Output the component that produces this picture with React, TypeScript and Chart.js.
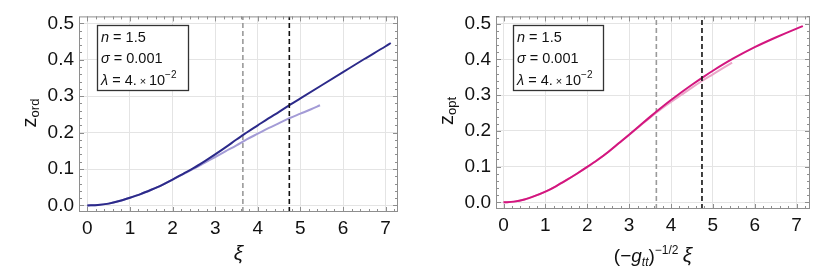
import React, { useEffect, useRef } from "react";
import { Chart, registerables } from "chart.js";

Chart.register(...registerables);

// ---------- data ----------
const X_ORD = [0, 0.25, 0.5, 0.75, 1, 1.25, 1.5, 1.75, 2, 2.25, 2.5, 2.75, 3, 3.25, 3.5, 3.65, 3.75, 4, 4.25, 4.5, 4.75, 5, 5.5, 6, 6.5, 7, 7.12];
const Z_ORD = [0, 0.001, 0.005, 0.012, 0.021, 0.031, 0.043, 0.056, 0.071, 0.087, 0.103, 0.121, 0.14, 0.16, 0.181, 0.193, 0.201, 0.22, 0.239, 0.257, 0.276, 0.294, 0.33, 0.366, 0.402, 0.437, 0.446];

const X_ORD_APPROX = [0, 0.25, 0.5, 0.75, 1, 1.25, 1.5, 1.75, 2, 2.25, 2.5, 2.75, 3, 3.25, 3.5, 3.75, 4, 4.25, 4.5, 4.75, 5, 5.25, 5.46];
const Z_ORD_APPROX = [0, 0.001, 0.005, 0.012, 0.021, 0.031, 0.043, 0.056, 0.071, 0.086, 0.101, 0.117, 0.133, 0.149, 0.165, 0.182, 0.197, 0.212, 0.226, 0.24, 0.252, 0.264, 0.275];

const X_OPT = [0, 0.25, 0.5, 0.75, 1, 1.25, 1.5, 1.75, 2, 2.25, 2.5, 2.75, 3, 3.25, 3.5, 3.75, 4, 4.25, 4.5, 4.75, 5, 5.5, 6, 6.5, 7, 7.15];
const Z_OPT = [0, 0.002, 0.008, 0.018, 0.03, 0.045, 0.062, 0.08, 0.099, 0.119, 0.141, 0.165, 0.189, 0.214, 0.239, 0.263, 0.286, 0.308, 0.329, 0.349, 0.368, 0.403, 0.434, 0.461, 0.486, 0.493];

const X_OPT_APPROX = [0, 0.25, 0.5, 0.75, 1, 1.25, 1.5, 1.75, 2, 2.25, 2.5, 2.75, 3, 3.25, 3.5, 3.75, 4, 4.25, 4.5, 4.75, 5, 5.25, 5.46];
const Z_OPT_APPROX = [0, 0.002, 0.008, 0.018, 0.03, 0.045, 0.062, 0.08, 0.099, 0.119, 0.141, 0.165, 0.189, 0.213, 0.237, 0.26, 0.281, 0.301, 0.321, 0.34, 0.358, 0.376, 0.391];

const DASH_GRAY_X = 3.65;
const DASH_BLACK_X = 4.74;

const X_TICKS = [0, 1, 2, 3, 4, 5, 6, 7];
const Y_TICKS = [0, 0.1, 0.2, 0.3, 0.4, 0.5];

const LEGEND_N = "1.5";
const LEGEND_SIGMA = "0.001";
const LEGEND_LAMBDA_MANT = "4.";
const LEGEND_LAMBDA_EXP = "\u22122";

// ---------- helpers ----------
const FONT = '"Liberation Sans", Arial, sans-serif';

type Run = { t: string; size: number; italic?: boolean; dy?: number };

function runsWidth(ctx: CanvasRenderingContext2D, runs: Run[]) {
  let w = 0;
  for (const r of runs) {
    ctx.font = `${r.italic ? "italic " : ""}${r.size}px ${FONT}`;
    w += ctx.measureText(r.t).width;
  }
  return w;
}

function drawRuns(ctx: CanvasRenderingContext2D, x: number, y: number, runs: Run[]) {
  let cx = x;
  ctx.textBaseline = "alphabetic";
  ctx.textAlign = "left";
  for (const r of runs) {
    ctx.font = `${r.italic ? "italic " : ""}${r.size}px ${FONT}`;
    ctx.fillText(r.t, cx, y + (r.dy || 0));
    cx += ctx.measureText(r.t).width;
  }
}

const zip = (xs: number[], ys: number[]) => xs.map((x, i) => ({ x, y: ys[i] }));

type PanelCfg = {
  xMin: number; xMax: number; yMin: number; yMax: number;
  yAxisWidth: number; xAxisHeight: number; padRight: number; padTop: number;
  mainX: number[]; mainY: number[]; approxX: number[]; approxY: number[];
  mainColor: string; approxColor: string;
  legendBox: [number, number, number, number];
  xTitle: Run[]; xTitleBaseline: number;
  yTitle: Run[]; yTitleX: number; yTitleCenter: number;
};

const overlayPlugin = {
  id: "overlay",
  afterDraw(chart: any, _args: any, opts: any) {
    const cfg: PanelCfg = opts.cfg;
    const { ctx, chartArea } = chart;
    const { left, right, top, bottom } = chartArea;
    const xs = chart.scales.x;
    const ys = chart.scales.y;
    ctx.save();
    // frame
    ctx.strokeStyle = "#8e8e8e";
    ctx.lineWidth = 1;
    ctx.strokeRect(left + 0.5, top + 0.5, right - left - 1, bottom - top - 1);
    // ticks on frame
    ctx.beginPath();
    const i0 = Math.ceil(xs.min / 0.2 - 1e-9), i1 = Math.floor(xs.max / 0.2 + 1e-9);
    for (let i = i0; i <= i1; i++) {
      const v = i * 0.2;
      const major = i % 5 === 0;
      const len = major ? 5 : 3;
      const px = Math.round(xs.getPixelForValue(v)) + 0.5;
      ctx.moveTo(px, bottom); ctx.lineTo(px, bottom - len);
      ctx.moveTo(px, top); ctx.lineTo(px, top + len);
    }
    const j0 = Math.ceil(ys.min / 0.02 - 1e-9), j1 = Math.floor(ys.max / 0.02 + 1e-9);
    for (let j = j0; j <= j1; j++) {
      const v = j * 0.02;
      const major = j % 5 === 0;
      const len = major ? 5 : 3;
      const py = Math.round(ys.getPixelForValue(v)) + 0.5;
      ctx.moveTo(left, py); ctx.lineTo(left + len, py);
      ctx.moveTo(right, py); ctx.lineTo(right - len, py);
    }
    ctx.stroke();

    // legend box
    const [bx, by, bw, bh] = cfg.legendBox;
    ctx.fillStyle = "#ffffff";
    ctx.fillRect(bx, by, bw, bh);
    ctx.strokeStyle = "#333333";
    ctx.lineWidth = 1.3;
    ctx.strokeRect(bx + 0.5, by + 0.5, bw, bh);
    ctx.fillStyle = "#111111";
    const fs = 14.5;
    drawRuns(ctx, bx + 4, by + 17, [
      { t: "n", size: fs, italic: true },
      { t: " = " + LEGEND_N, size: fs },
    ]);
    drawRuns(ctx, bx + 4, by + 38, [
      { t: "\u03c3", size: fs, italic: true },
      { t: " = " + LEGEND_SIGMA, size: fs },
    ]);
    drawRuns(ctx, bx + 4, by + 60, [
      { t: "\u03bb", size: fs, italic: true },
      { t: " = " + LEGEND_LAMBDA_MANT + "\u2009", size: fs },
      { t: "\u00d7", size: 11 },
      { t: "\u200910", size: fs },
      { t: LEGEND_LAMBDA_EXP, size: 10, dy: -7 },
    ]);

    // x title
    ctx.fillStyle = "#111111";
    const wx = runsWidth(ctx, cfg.xTitle);
    drawRuns(ctx, (left + right) / 2 - wx / 2, cfg.xTitleBaseline, cfg.xTitle);

    // y title (rotated)
    const wy = runsWidth(ctx, cfg.yTitle);
    ctx.translate(cfg.yTitleX, cfg.yTitleCenter);
    ctx.rotate(-Math.PI / 2);
    drawRuns(ctx, -wy / 2, 0, cfg.yTitle);
    ctx.restore();
  },
};

function Panel({ cfg, left }: { cfg: PanelCfg; left: number }) {
  const ref = useRef<HTMLCanvasElement>(null);
  useEffect(() => {
    const canvas = ref.current!;
    const chart = new Chart(canvas, {
      type: "scatter",
      data: {
        datasets: [
          {
            data: zip(cfg.mainX, cfg.mainY),
            showLine: true, borderColor: cfg.mainColor, borderWidth: 2,
            pointRadius: 0, cubicInterpolationMode: "monotone", order: 1,
          },
          {
            data: zip(cfg.approxX, cfg.approxY),
            showLine: true, borderColor: cfg.approxColor, borderWidth: 2,
            pointRadius: 0, cubicInterpolationMode: "monotone", order: 2,
          },
          {
            data: [{ x: DASH_GRAY_X, y: cfg.yMin }, { x: DASH_GRAY_X, y: cfg.yMax }],
            showLine: true, borderColor: "#9a9a9a", borderWidth: 1.6,
            borderDash: [5, 3], pointRadius: 0, order: 3,
          },
          {
            data: [{ x: DASH_BLACK_X, y: cfg.yMin }, { x: DASH_BLACK_X, y: cfg.yMax }],
            showLine: true, borderColor: "#111111", borderWidth: 1.6,
            borderDash: [5, 3], pointRadius: 0, order: 0,
          },
        ],
      },
      options: {
        animation: false,
        responsive: false,
        events: [],
        layout: { padding: { top: cfg.padTop, right: cfg.padRight, left: 0, bottom: 0 } },
        plugins: { legend: { display: false }, tooltip: { enabled: false }, overlay: { cfg } } as any,
        scales: {
          x: {
            type: "linear", min: cfg.xMin, max: cfg.xMax,
            afterFit: (s: any) => { s.height = cfg.xAxisHeight; },
            afterBuildTicks: (s: any) => { s.ticks = X_TICKS.map((v) => ({ value: v })); },
            ticks: { color: "#111111", font: { family: FONT, size: 19 }, padding: 5, maxRotation: 0, callback: (v: any) => String(v) },
            grid: { color: "#e4e4e4", drawTicks: false, lineWidth: 1 },
            border: { display: false },
          },
          y: {
            type: "linear", min: cfg.yMin, max: cfg.yMax,
            afterFit: (s: any) => { s.width = cfg.yAxisWidth; },
            afterBuildTicks: (s: any) => { s.ticks = Y_TICKS.map((v) => ({ value: v })); },
            ticks: { color: "#111111", font: { family: FONT, size: 19 }, padding: 5, callback: (v: any) => Number(v).toFixed(1) },
            grid: { color: "#e4e4e4", drawTicks: false, lineWidth: 1 },
            border: { display: false },
          },
        },
      },
      plugins: [overlayPlugin as any],
    });
    return () => chart.destroy();
  }, []);
  return (
    <canvas
      ref={ref}
      width={415}
      height={277}
      style={{ position: "absolute", left, top: 0, width: 415, height: 277 }}
    />
  );
}

const LEFT_CFG: PanelCfg = {
  xMin: -0.195, xMax: 7.29, yMin: -0.018, yMax: 0.519,
  yAxisWidth: 79, xAxisHeight: 65, padRight: 17, padTop: 15,
  mainX: X_ORD, mainY: Z_ORD, approxX: X_ORD_APPROX, approxY: Z_ORD_APPROX,
  mainColor: "#2c2a8a", approxColor: "#a39bd6",
  legendBox: [97, 25, 91, 65],
  xTitle: [{ t: "\u03be", size: 21, italic: true }],
  xTitleBaseline: 260,
  yTitle: [{ t: "z", size: 20 }, { t: "ord", size: 13, dy: 3 }],
  yTitleX: 36, yTitleCenter: 113,
};

const RIGHT_CFG: PanelCfg = {
  xMin: -0.18, xMax: 7.32, yMin: -0.0186, yMax: 0.52,
  yAxisWidth: 81, xAxisHeight: 68, padRight: 20, padTop: 15,
  mainX: X_OPT, mainY: Z_OPT, approxX: X_OPT_APPROX, approxY: Z_OPT_APPROX,
  mainColor: "#d3167f", approxColor: "#eba5c8",
  legendBox: [98, 25, 90, 65],
  xTitle: [
    { t: "(\u2212", size: 19 },
    { t: "g", size: 19, italic: true },
    { t: "tt", size: 12, italic: true, dy: 4 },
    { t: ")", size: 19 },
    { t: "\u22121/2", size: 12, dy: -8 },
    { t: "\u2009\u03be", size: 21, italic: true },
  ],
  xTitleBaseline: 262,
  yTitle: [{ t: "z", size: 20 }, { t: "opt", size: 13, dy: 3 }],
  yTitleX: 38, yTitleCenter: 111,
};

export default function App() {
  return (
    <div style={{ position: "fixed", left: 0, top: 0, width: 830, height: 277, background: "#ffffff" }}>
      <Panel cfg={LEFT_CFG} left={0} />
      <Panel cfg={RIGHT_CFG} left={415} />
    </div>
  );
}
